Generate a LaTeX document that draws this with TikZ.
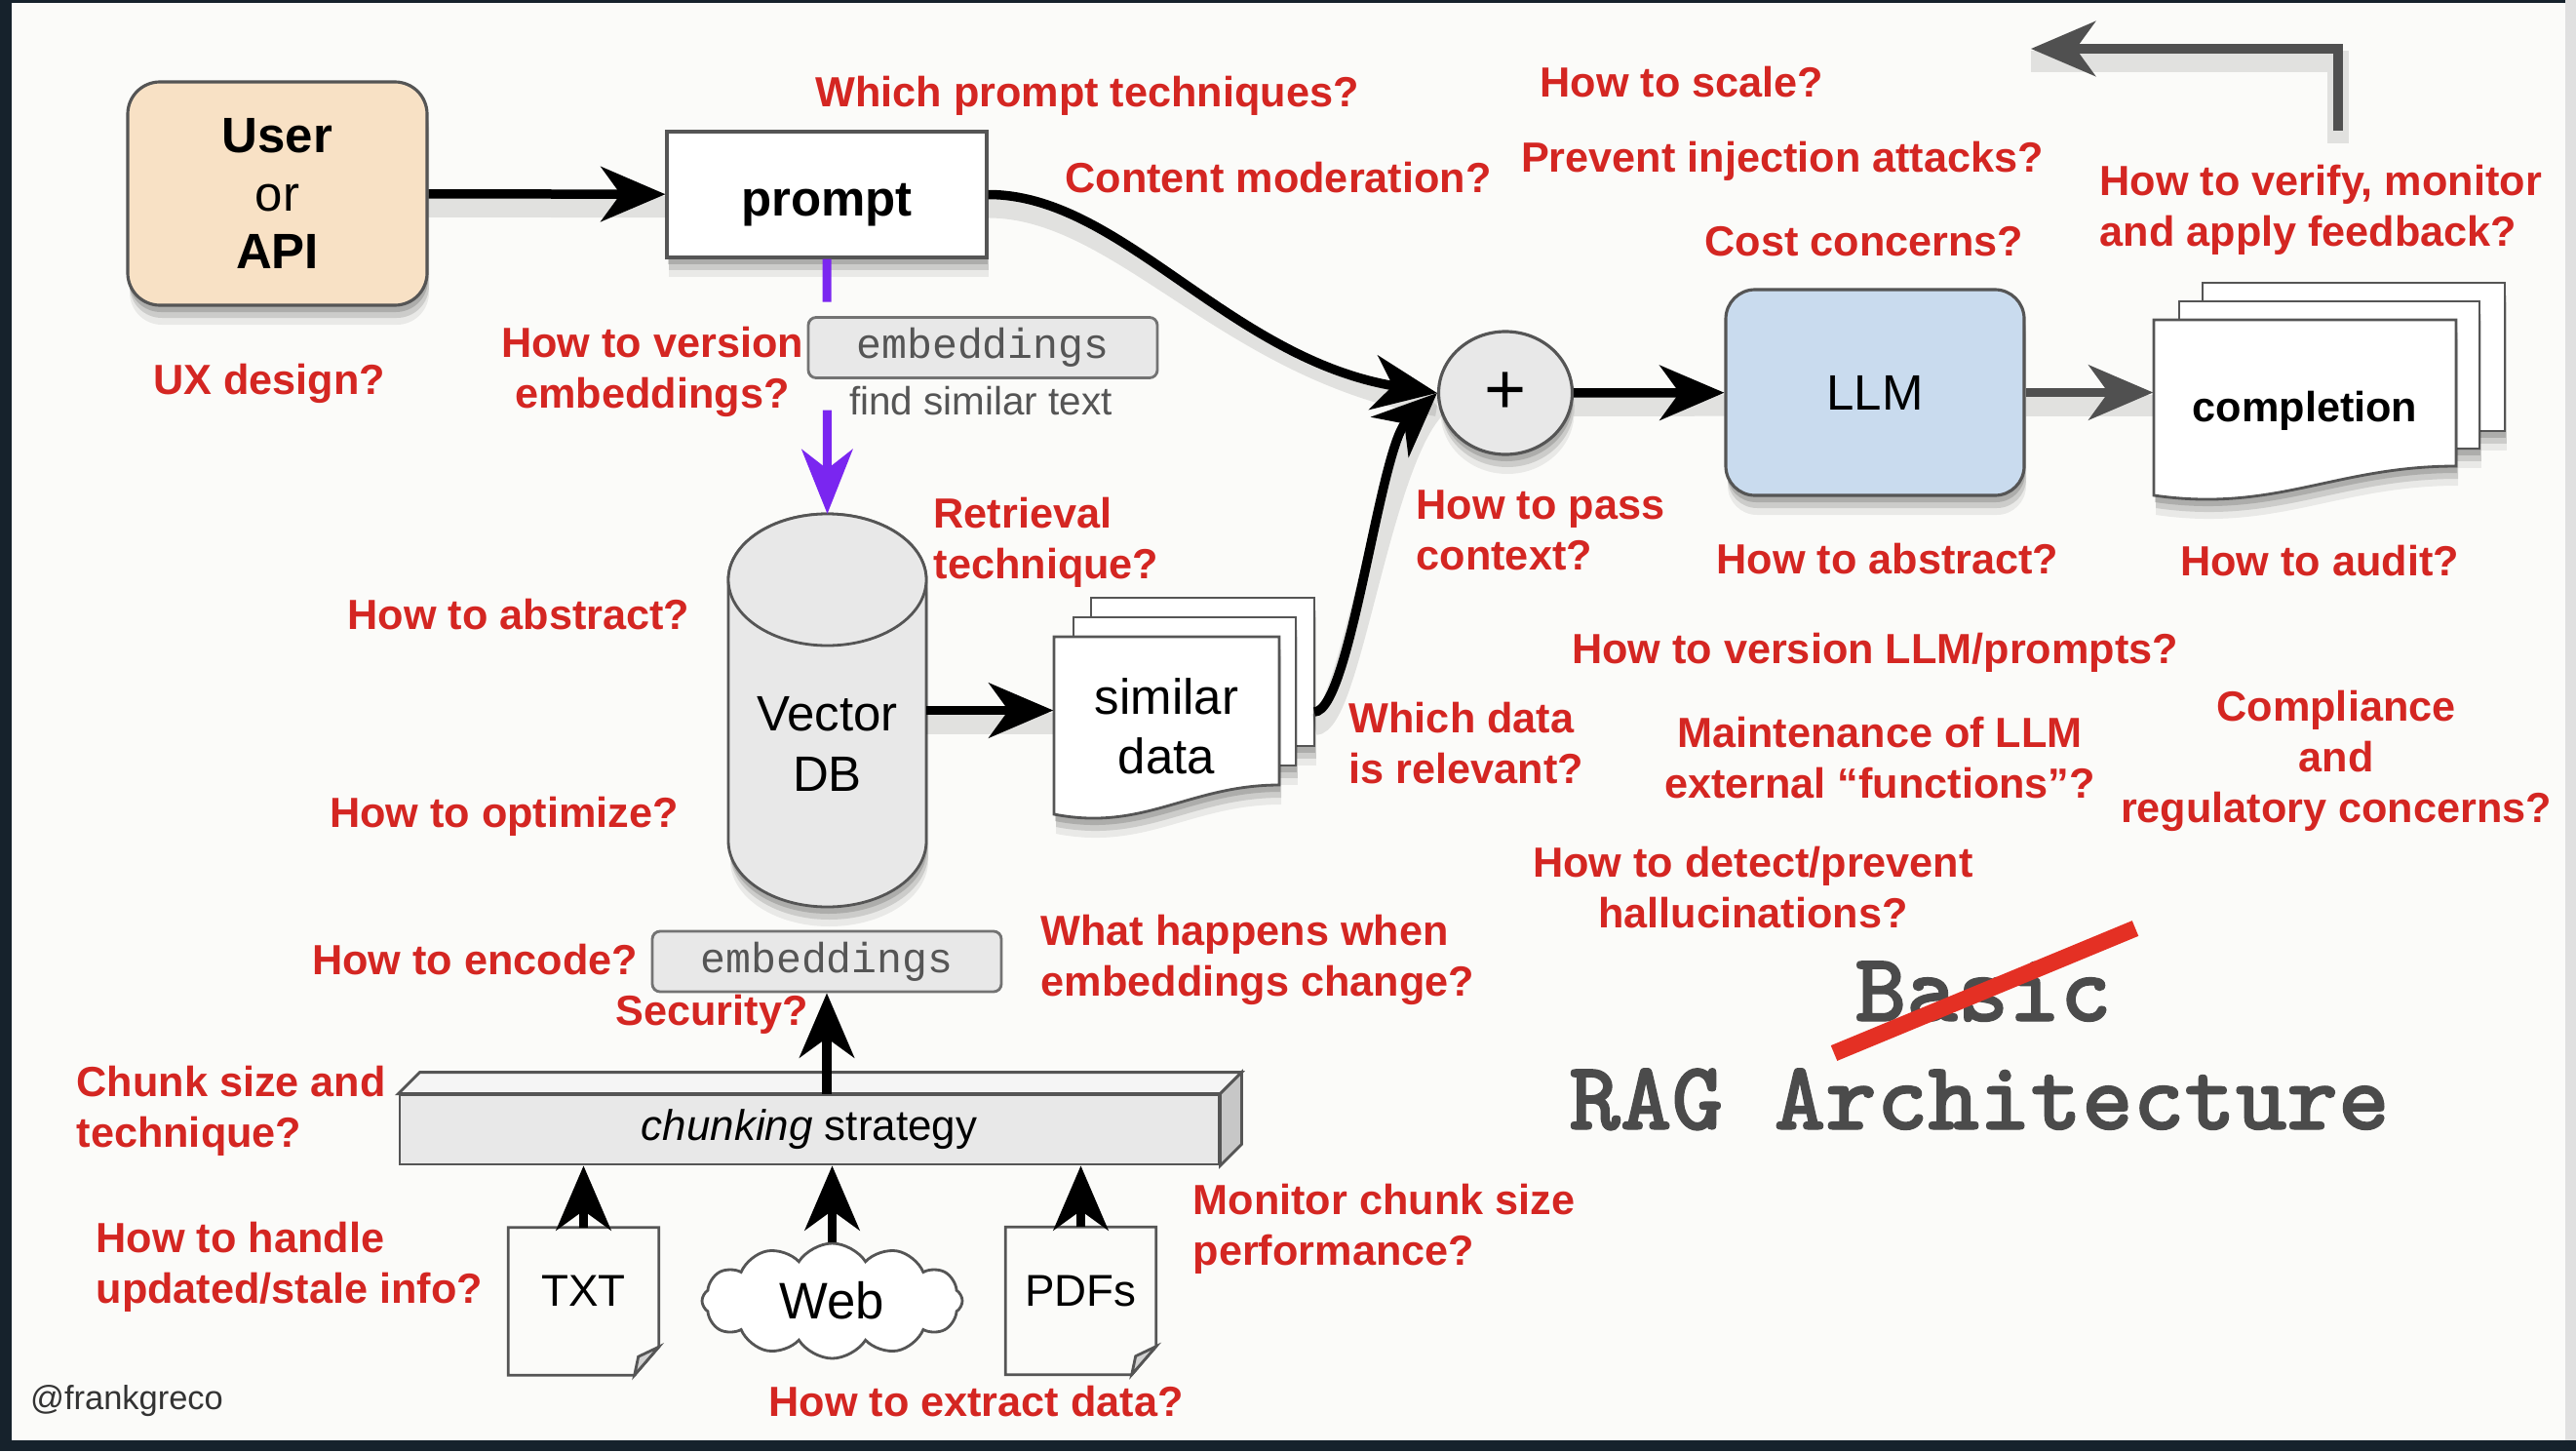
\documentclass[tikz,border=0pt]{standalone}
\usepackage{fontspec}
\setmainfont{Liberation Sans}
\newfontfamily\embfont{Liberation Mono}
\newfontfamily\typewfont[Extension=.otf, FakeBold=1.2]{lmmonolt10-bold}
\usepackage{xcolor}
\usepackage{tikz}
\usetikzlibrary{arrows.meta,positioning,shapes.geometric,shapes.symbols,shadows}
\definecolor{qred}{RGB}{212,38,34}
\definecolor{framedark}{RGB}{22,34,44}
\definecolor{slidebg}{RGB}{251,251,249}
\definecolor{peach}{RGB}{248,225,197}
\definecolor{llmblue}{RGB}{201,219,238}
\definecolor{boxgray}{RGB}{232,232,232}
\definecolor{edgegray}{RGB}{85,85,85}
\definecolor{txtgray}{RGB}{85,85,85}
\definecolor{arrgray}{RGB}{80,80,80}
\definecolor{violet1}{RGB}{122,38,240}
\definecolor{strikered}{RGB}{228,48,36}
\definecolor{titlegray}{RGB}{75,75,75}
\newcommand{\qfont}{\fontsize{12.3}{14.8}\selectfont\bfseries}
\newcommand{\foldpage}[1]{%
  \draw[srcline] (#1.north west) -- (#1.north east) -- ([yshift=0.29cm]#1.south east)
    -- ([xshift=-0.25cm]#1.south east) -- (#1.south west) -- cycle;
  \filldraw[srcline, fill=black!18] ([yshift=0.29cm]#1.south east) -- ([xshift=-0.25cm]#1.south east)
    -- ([shift={(-0.21cm,0.19cm)}]#1.south east) -- cycle;}
\tikzset{
  softshadow/.style={general shadow={shadow xshift=0.02cm, shadow yshift=-0.20cm, opacity=0.07, fill=black},
    general shadow={shadow xshift=0.02cm, shadow yshift=-0.13cm, opacity=0.12, fill=black},
    general shadow={shadow xshift=0.01cm, shadow yshift=-0.07cm, opacity=0.15, fill=black}},
  arrshadow/.style={preaction={draw=black, opacity=0.10, line width=0.22cm, arrows=-, transform canvas={yshift=-0.13cm}}},
  userbox/.style={draw=edgegray, fill=peach, line width=0.9pt, rounded corners=0.33cm, minimum width=3.07cm, minimum height=2.29cm, align=center, font=\fontsize{14.5}{17}\selectfont, softshadow},
  fbox/.style={draw=edgegray, fill=white, line width=0.9pt, minimum width=3.28cm, minimum height=1.29cm, text height=0.53cm, text depth=0.10cm, font=\fontsize{14.5}{17}\selectfont\bfseries, softshadow},
  embbox/.style={draw=black!55, fill=boxgray, line width=0.8pt, rounded corners=0.08cm, minimum width=3.58cm, minimum height=0.62cm, inner sep=0pt, text=txtgray, font=\embfont\fontsize{12.3}{14}\selectfont},
  graytext/.style={text=txtgray, inner sep=0pt, font=\fontsize{11.5}{13}\selectfont},
  plusnode/.style={ellipse, draw=edgegray, fill=boxgray, line width=0.9pt, minimum width=1.37cm, minimum height=1.26cm, inner sep=0pt, font=\fontsize{21}{21}\selectfont, softshadow},
  llmbox/.style={draw=edgegray, fill=llmblue, line width=0.9pt, rounded corners=0.3cm, minimum width=3.06cm, minimum height=2.11cm, font=\fontsize{14.5}{17}\selectfont, softshadow},
  dbbox/.style={draw=none, minimum width=2.03cm, minimum height=4.03cm, inner sep=0pt, outer sep=0pt},
  dbshape/.style={draw=edgegray, fill=boxgray, line width=0.8pt},
  sheet/.style={draw=edgegray, fill=white, line width=0.8pt},
  nodetext/.style={align=center, inner sep=0pt, font=\fontsize{14.5}{17.5}\selectfont},
  chunkbar/.style={draw=edgegray, fill=black!9, line width=0.8pt, minimum width=8.40cm, minimum height=0.71cm, inner sep=0pt, font=\fontsize{12.5}{14}\selectfont},
  srcdoc/.style={draw=none, minimum width=1.53cm, minimum height=1.50cm, inner sep=0pt, text depth=0.21cm, font=\fontsize{13}{15}\selectfont},
  srcline/.style={draw=edgegray, line width=0.8pt},
  webcloud/.style={cloud, cloud puffs=12, cloud puff arc=115, aspect=2.3, draw=edgegray, fill=white, line width=0.8pt, minimum width=2.67cm, minimum height=1.18cm, inner sep=0pt, font=\fontsize{15}{15}\selectfont},
  farr/.style={-{Stealth[length=0.66cm,width=0.56cm,inset=0.2cm]}, line width=0.095cm, draw=black},
  garr/.style={farr, draw=arrgray},
  parr/.style={-{Stealth[length=0.66cm,width=0.52cm,inset=0.2cm]}, line width=0.09cm, draw=violet1},
  qtext/.style={text=qred, font=\qfont, align=center, inner sep=0pt},
  qleft/.style={qtext, align=left, anchor=west},
  titletext/.style={text=titlegray, inner sep=0pt, anchor=base, font=\typewfont\fontsize{28.5}{28.5}\selectfont},
  credit/.style={text=black!80, inner sep=0pt, font=\fontsize{9.8}{11}\selectfont}
}

\begin{document}
\begin{tikzpicture}
% slide and frame
\fill[framedark] (0,0) rectangle (26.42,14.88);
\fill[slidebg] (0.12,0.11) rectangle (26.31,14.85);
\fill[black!12] (26.31,0.11) rectangle (26.42,14.88);
\useasboundingbox (0,0) rectangle (26.42,14.88);

% top row
\node[userbox] (user) at (2.845,12.895) {\textbf{User}\\or\\\textbf{API}};
\node[fbox] (prompt) at (8.48,12.885) {prompt};
\node[embbox] (emb1) at (10.08,11.315) {embeddings};
\node[graytext] (findtxt) at (10.06,10.77) {find similar text};
\node[plusnode] (plus) at (15.44,10.85) {+};
\node[llmbox] (llm) at (19.23,10.855) {LLM};

% completion stack
\filldraw[sheet, softshadow] (22.59,10.46) rectangle (25.69,11.98);
\filldraw[sheet, softshadow] (22.35,10.28) rectangle (25.43,11.79);
\filldraw[sheet, softshadow] (22.09,11.60) -- (25.19,11.60) -- (25.19,10.10)
  .. controls (23.95,10.10) and (23.33,9.62) .. (22.09,9.80) -- cycle;
\node[nodetext, minimum width=3.10cm, font=\fontsize{12.3}{15}\selectfont\bfseries] (comp) at (23.64,10.67) {completion};

% vector db
\node[dbbox] (vdb) at (8.485,7.595) {};
\filldraw[dbshape, softshadow] (7.47,8.935) -- (7.47,6.255)
  arc[start angle=180, end angle=360, x radius=1.015cm, y radius=0.675cm] -- (9.50,8.935)
  arc[start angle=0, end angle=180, x radius=1.015cm, y radius=0.675cm] -- cycle;
\draw[dbshape] (8.485,8.935) ellipse[x radius=1.015cm, y radius=0.675cm];
\node[nodetext] (vdbtxt) at (8.485,7.25) {Vector\\DB};

% similar data stack
\filldraw[sheet, softshadow] (11.19,7.23) rectangle (13.48,8.75);
\filldraw[sheet, softshadow] (11.01,7.03) rectangle (13.29,8.55);
\filldraw[sheet, softshadow] (10.81,8.35) -- (13.12,8.35) -- (13.12,6.83)
  .. controls (12.20,6.83) and (11.73,6.35) .. (10.81,6.53) -- cycle;
\node[nodetext, minimum width=2.31cm] (sim) at (11.965,7.43) {similar\\data};
\coordinate (simout) at (13.48,7.58);

% ingestion
\node[embbox] (emb2) at (8.48,5.02) {embeddings};
\node[chunkbar] (chunk) at (8.30,3.295) {\textit{chunking} strategy};
\filldraw[srcline, fill=black!4] (chunk.north west) -- ++(0.22,0.22) -- ([shift={(0.22,0.22)}]chunk.north east) -- (chunk.north east) -- cycle;
\filldraw[srcline, fill=black!22] (chunk.north east) -- ++(0.22,0.22) -- ([shift={(0.22,0.22)}]chunk.south east) -- (chunk.south east) -- cycle;
\node[srcdoc] (txt) at (5.985,1.535) {TXT};
\foldpage{txt}
\node[webcloud] (web) at (8.535,1.54) {Web};
\node[srcdoc] (pdfs) at (11.085,1.54) {PDFs};
\foldpage{pdfs}

% connectors
\draw[farr, arrshadow] (user) -- (prompt);
\draw[farr, arrshadow] (prompt.east) .. controls (11.5,12.885) and (12.6,11.2) .. (plus.west);
\draw[parr, dash pattern=on 0.44cm off 1.11cm on 3cm] (prompt.south) -- (vdb.north);
\draw[farr, arrshadow] (vdb.east) -- (vdb.east -| sim.west);
\draw[farr, arrshadow] (simout) .. controls (13.85,7.58) and (14.15,10.3) .. (plus.west);
\draw[farr, arrshadow] (plus) -- (llm);
\draw[garr, arrshadow] (llm) -- (llm -| comp.west);
\coordinate (fbstart) at (23.98,13.54);
\coordinate (fbend) at (20.83,14.38);
\draw[garr, arrshadow] (fbstart) |- (fbend);
\draw[farr] (chunk.north -| emb2.south) -- (emb2.south);
\draw[farr] (txt) -- (txt |- chunk.south);
\draw[farr] (web) -- (web |- chunk.south);
\draw[farr] (pdfs) -- (pdfs |- chunk.south);

% questions
\node[qtext] (q1) at (11.15,13.90) {Which prompt techniques?};
\node[qtext] (q2) at (13.11,13.06) {Content moderation?};
\node[qtext] (q3) at (17.25,14.04) {How to scale?};
\node[qtext] (q4) at (18.28,13.23) {Prevent injection attacks?};
\node[qtext] (q5) at (19.12,12.40) {Cost concerns?};
\node[qleft] (q6) at (21.53,12.73) {How to verify, monitor\\and apply feedback?};
\node[qtext] (q7) at (2.76,10.95) {UX design?};
\node[qtext] (q8) at (6.69,11.07) {How to version\\embeddings?};
\node[qleft] (q9) at (9.57,9.32) {Retrieval\\technique?};
\node[qtext] (q10) at (5.32,8.58) {How to abstract?};
\node[qtext] (q11) at (5.17,6.51) {How to optimize?};
\node[qleft] (q12) at (14.52,9.44) {How to pass\\context?};
\node[qtext] (q13) at (19.36,9.15) {How to abstract?};
\node[qtext] (q14) at (23.79,9.13) {How to audit?};
\node[qleft] (q15) at (13.83,7.26) {Which data\\is relevant?};
\node[qtext] (q16) at (19.23,8.19) {How to version LLM/prompts?};
\node[qtext] (q17) at (19.28,7.11) {Maintenance of LLM\\external “functions”?};
\node[qtext] (q18) at (23.96,7.08) {Compliance\\and\\regulatory concerns?};
\node[qtext] (q19) at (17.98,5.78) {How to detect/prevent\\hallucinations?};
\node[qleft] (q20) at (10.67,5.04) {What happens when\\embeddings change?};
\node[qtext] (q21) at (4.87,5.04) {How to encode?};
\node[qtext] (q22) at (7.30,4.48) {Security?};
\node[qleft] (q23) at (0.78,3.49) {Chunk size and\\technique?};
\node[qleft] (q24) at (0.98,1.89) {How to handle\\updated/stale info?};
\node[qleft] (q25) at (12.23,2.28) {Monitor chunk size\\performance?};
\node[qtext] (q26) at (10.01,0.51) {How to extract data?};

% title
\node[titletext] (basic) at (20.34,4.41) {Basic};
\node[titletext] (rag) at (20.30,3.30) {RAG Architecture};
\draw[strikered, line width=0.17cm] (18.81,4.08) -- (21.90,5.36);
\node[credit] (credit) at (1.30,0.51) {@frankgreco};
\end{tikzpicture}
\end{document}
